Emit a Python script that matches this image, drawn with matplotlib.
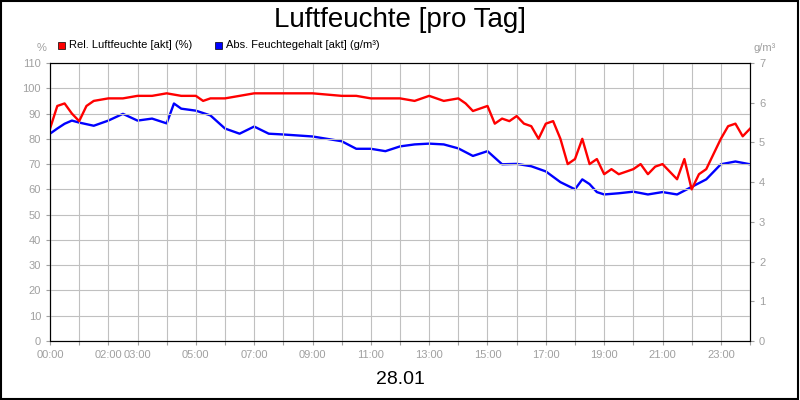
import matplotlib
matplotlib.use("Agg")
import matplotlib.pyplot as plt
from matplotlib.patches import Rectangle

plt.rcParams["font.family"] = "Liberation Sans"

rh_t = [0,0.25,0.5,0.75,1.0,1.25,1.5,2,2.5,3,3.5,4,4.5,5,5.25,5.5,6,6.5,7,8,9,10,10.5,11,11.5,12,12.5,13,13.5,14,14.25,14.5,14.75,15,15.25,15.5,15.75,16,16.25,16.5,16.75,17,17.25,17.5,17.75,18,18.25,18.5,18.75,19,19.25,19.5,19.75,20,20.25,20.5,20.75,21,21.25,21.5,21.75,22,22.25,22.5,22.75,23,23.25,23.5,23.75,24]
rh = [84,93,94,90,87,93,95,96,96,97,97,98,97,97,95,96,96,97,98,98,98,97,97,96,96,96,95,97,95,96,94,91,92,93,86,88,87,89,86,85,80,86,87,80,70,72,80,70,72,66,68,66,67,68,70,66,69,70,67,64,72,60,66,68,74,80,85,86,81,84]

ah_t = [0,0.25,0.5,0.75,1.0,1.5,2,2.5,3,3.5,4,4.25,4.5,5,5.5,6,6.5,7,7.5,8,9,10,10.5,11,11.5,12,12.5,13,13.5,14,14.5,15,15.5,16,16.5,17,17.5,18,18.25,18.5,18.75,19,19.5,20,20.5,21,21.5,22,22.5,23,23.5,24]
ah = [5.22,5.35,5.47,5.55,5.5,5.42,5.55,5.72,5.55,5.6,5.48,5.98,5.85,5.8,5.68,5.35,5.22,5.4,5.22,5.2,5.15,5.03,4.84,4.84,4.78,4.9,4.95,4.97,4.95,4.85,4.66,4.78,4.45,4.46,4.4,4.27,4.0,3.82,4.07,3.95,3.75,3.69,3.72,3.76,3.69,3.75,3.69,3.88,4.07,4.45,4.52,4.45]

ticks = [0,2,3,5,7,9,11,13,15,17,19,21,23]
tick_labels = ["00:00","02:00","03:00","05:00","07:00","09:00","11:00","13:00","15:00","17:00","19:00","21:00","23:00"]

fig = plt.figure(figsize=(8,4), dpi=100)
ax = fig.add_axes([50/800, 59/400, 700/800, 278/400])
ax.plot(rh_t, rh, color="#ff0000", lw=1.7)
ax.set_xlim(0,24); ax.set_ylim(0,110)
ax.set_yticks(range(0,111,10))
ax.set_xticks(range(0,25), minor=False)
ax.set_xticklabels([tick_labels[ticks.index(h)] if h in ticks else "" for h in range(25)])
ax.grid(True, color="#c0c0c0", lw=0.8)
ax.tick_params(labelsize=8, colors="#a0a0a0", length=3, labelcolor="#a0a0a0")
ax.set_axisbelow(True)
for s in ax.spines.values(): s.set_color("black")
ax2 = ax.twinx()
ax2.plot(ah_t, ah, color="#0000ff", lw=1.7)
ax2.set_ylim(0,7)
ax2.set_yticks(range(0,8))
ax2.tick_params(labelsize=8, colors="#a0a0a0", length=3, labelcolor="#a0a0a0")
ax.set_zorder(ax2.get_zorder()+1); ax.patch.set_visible(False)

fig.text(0.5, 0.95, "Luftfeuchte [pro Tag]", ha="center", va="center", fontsize=20)
fig.text(0.5, 0.05, "28.01", ha="center", va="center", fontsize=14)
fig.text(42/800, 0.88, "%", ha="center", va="center", fontsize=8, color="#a0a0a0")
fig.text(765/800, 0.88, "g/m³", ha="center", va="center", fontsize=8, color="#a0a0a0")
fig.patches.append(Rectangle((58/800, 0.878), 7/800, 7/400, transform=fig.transFigure, facecolor="#ff0000", edgecolor="black", lw=0.5))
fig.text(69/800, 0.887, "Rel. Luftfeuchte [akt] (%)", va="center", fontsize=8)
fig.patches.append(Rectangle((215/800, 0.878), 7/800, 7/400, transform=fig.transFigure, facecolor="#0000ff", edgecolor="black", lw=0.5))
fig.text(226/800, 0.887, "Abs. Feuchtegehalt [akt] (g/m³)", va="center", fontsize=8)
fig.patches.append(Rectangle((0.001,0.002),0.997,0.995, transform=fig.transFigure, fill=False, edgecolor="black", lw=1.5))
fig.savefig("out.png", dpi=100)
